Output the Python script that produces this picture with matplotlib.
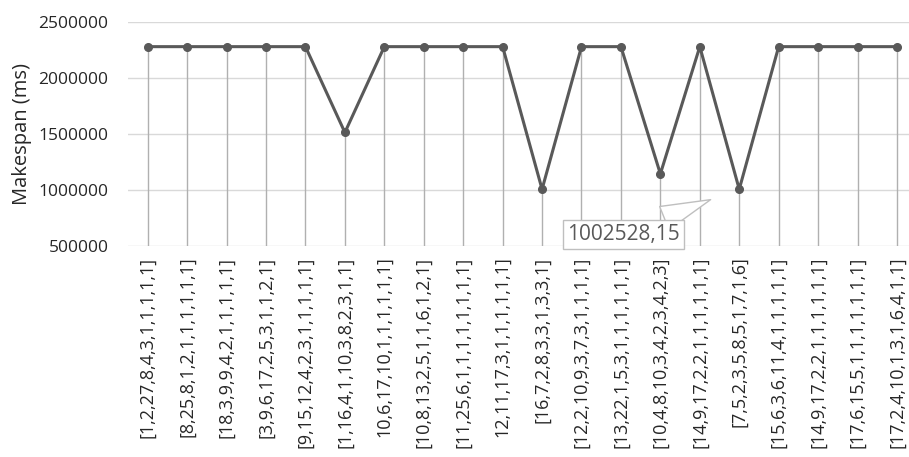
import matplotlib
matplotlib.use('Agg')
import matplotlib.pyplot as plt

# configurations tested and the makespan each one gave
# (two labels are cut at the bottom edge in the original, so they show without the "[")
configs = ['[1,2,27,8,4,3,1,1,1,1,1]', '[8,25,8,1,2,1,1,1,1,1,1]', '[18,3,9,9,4,2,1,1,1,1,1]',
           '[3,9,6,17,2,5,3,1,1,2,1]', '[9,15,12,4,2,3,1,1,1,1,1]', '[1,16,4,1,10,3,8,2,3,1,1]',
           '10,6,17,10,1,1,1,1,1,1]', '[10,8,13,2,5,1,1,6,1,2,1]', '[11,25,6,1,1,1,1,1,1,1,1]',
           '12,11,17,3,1,1,1,1,1,1]', '[16,7,2,8,3,3,1,3,3,1]', '[12,2,10,9,3,7,3,1,1,1,1]',
           '[13,22,1,5,3,1,1,1,1,1,1]', '[10,4,8,10,3,4,2,3,4,2,3]', '[14,9,17,2,2,1,1,1,1,1,1]',
           '[7,5,2,3,5,8,5,1,7,1,6]', '[15,6,3,6,11,4,1,1,1,1,1]', '[14,9,17,2,2,1,1,1,1,1,1]',
           '[17,6,15,5,1,1,1,1,1,1,1]', '[17,2,4,10,1,3,1,6,4,1,1]']
makespan = [2277000, 2277000, 2277000, 2277000, 2277000, 1510000, 2277000, 2277000, 2277000, 2277000,
            1002528.15, 2277000, 2277000, 1140000, 2277000, 1002528.15, 2277000, 2277000, 2277000, 2277000]
yticks = [500000, 1000000, 1500000, 2000000, 2500000]

plt.rcParams['font.family'] = ['Open Sans', 'DejaVu Sans']

fig = plt.figure(figsize=(9.09, 4.57), dpi=100)
ax = fig.add_axes([128 / 909, 1 - 245.5 / 457, 1 - 128 / 909, (245.5 - 21.7) / 457])

x = list(range(len(makespan)))
ax.vlines(x, 500000, makespan, color='#b0b0b0', lw=1, zorder=1)
ax.plot(x, makespan, color='#595959', lw=2.2, marker='o', ms=5.5, zorder=3)

ax.set_ylim(500000, 2500000)
ax.set_xlim(-0.5, (909 - 148) / 39.42)
ax.set_yticks(yticks)
ax.set_yticklabels([str(v) for v in yticks], fontsize=12.5, color='#262626')
ax.yaxis.grid(True, color='#d9d9d9', lw=1)
ax.set_axisbelow(True)
ax.set_xticks(x)
ax.set_xticklabels(configs, rotation=90, fontsize=13, color='#262626', va='top')
ax.tick_params(axis='both', length=0)
ax.tick_params(axis='x', pad=8)
ax.tick_params(axis='y', pad=14)
for s in ax.spines.values():
    s.set_visible(False)

fig.text(22 / 909, 1 - 134 / 457, 'Makespan (ms)', rotation=90, fontsize=14.5,
         color='#262626', ha='center', va='center')

ax.annotate('1002528,15', xy=(14.34, 919000), xytext=(12.07, 600000),
            fontsize=15, color='#595959', ha='center', va='center',
            bbox=dict(boxstyle='square,pad=0.2', fc='white', ec='#bfbfbf', lw=1),
            arrowprops=dict(arrowstyle='wedge,tail_width=1.2,shrink_factor=0.5',
                            fc='white', ec='#bfbfbf', lw=1),
            annotation_clip=False, zorder=5)

fig.savefig('out.png', dpi=100)
